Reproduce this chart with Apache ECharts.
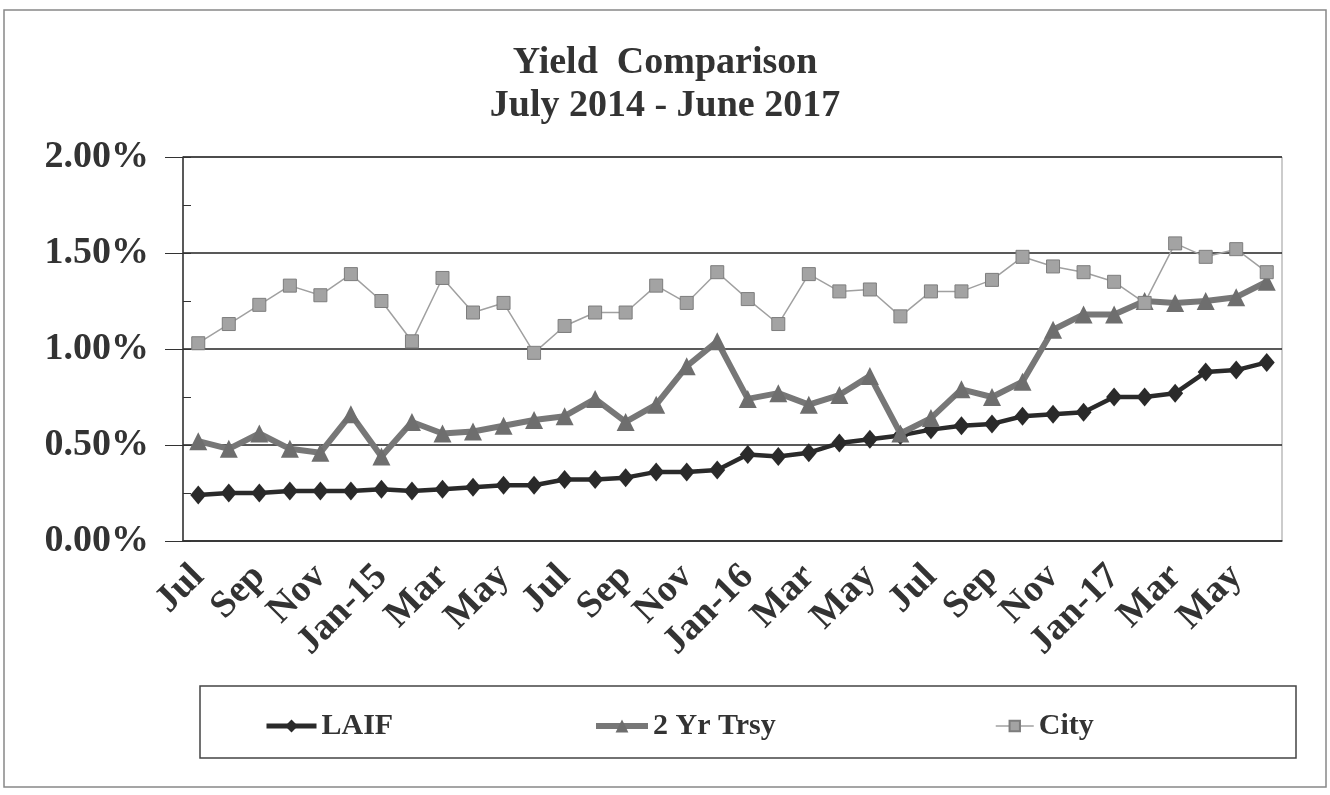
<!DOCTYPE html>
<html>
<head>
<meta charset="utf-8">
<title>Yield Comparison</title>
<script src="https://cdn.jsdelivr.net/npm/echarts@6/dist/echarts.min.js"></script>
<style>
  html, body { margin: 0; padding: 0; background: #fff; }
  #main { width: 1330px; height: 795px; }
</style>
</head>
<body>
<div id="main"></div>
<script>
  // months, July 2014 - June 2017
  var months = ['Jul', 'Aug', 'Sep', 'Oct', 'Nov', 'Dec', 'Jan-15', 'Feb', 'Mar', 'Apr', 'May', 'Jun',
                'Jul', 'Aug', 'Sep', 'Oct', 'Nov', 'Dec', 'Jan-16', 'Feb', 'Mar', 'Apr', 'May', 'Jun',
                'Jul', 'Aug', 'Sep', 'Oct', 'Nov', 'Dec', 'Jan-17', 'Feb', 'Mar', 'Apr', 'May', 'Jun'];

  // yields in percent
  var laif = [0.24, 0.25, 0.25, 0.26, 0.26, 0.26, 0.27, 0.26, 0.27, 0.28, 0.29, 0.29,
              0.32, 0.32, 0.33, 0.36, 0.36, 0.37, 0.45, 0.44, 0.46, 0.51, 0.53, 0.55,
              0.58, 0.60, 0.61, 0.65, 0.66, 0.67, 0.75, 0.75, 0.77, 0.88, 0.89, 0.93];
  var trsy2yr = [0.52, 0.48, 0.56, 0.48, 0.46, 0.66, 0.44, 0.62, 0.56, 0.57, 0.60, 0.63,
                 0.65, 0.74, 0.62, 0.71, 0.91, 1.04, 0.74, 0.77, 0.71, 0.76, 0.86, 0.56,
                 0.64, 0.79, 0.75, 0.83, 1.10, 1.18, 1.18, 1.25, 1.24, 1.25, 1.27, 1.35];
  var city = [1.03, 1.13, 1.23, 1.33, 1.28, 1.39, 1.25, 1.04, 1.37, 1.19, 1.24, 0.98,
              1.12, 1.19, 1.19, 1.33, 1.24, 1.40, 1.26, 1.13, 1.39, 1.30, 1.31, 1.17,
              1.30, 1.30, 1.36, 1.48, 1.43, 1.40, 1.35, 1.24, 1.55, 1.48, 1.52, 1.40];

  var serif = '"Liberation Serif", "Times New Roman", serif';
  var ink = '#333';

  var laifColor = '#2a2a2a';
  var trsyColor = '#777';
  var cityColor = '#a0a0a0';

  var legendText = { fontFamily: serif, fontWeight: 'bold', fontSize: 30, color: ink };

  var option = {
    animation: false,
    backgroundColor: '#fff',
    title: {
      text: 'Yield  Comparison\nJuly 2014 - June 2017',
      left: 'center',
      top: 37,
      textStyle: {
        fontFamily: serif,
        fontWeight: 'bold',
        fontSize: 38,
        lineHeight: 43,
        color: ink
      }
    },
    grid: {
      left: 183,
      right: 48,
      top: 157,
      bottom: 254,
      show: true,
      borderColor: '#999',
      borderWidth: 1
    },
    legend: [
      {
        data: ['LAIF'], left: 259, top: 706, itemWidth: 50, itemHeight: 16, itemGap: 4,
        lineStyle: { width: 5, color: laifColor }, textStyle: legendText
      },
      {
        data: ['2 Yr Trsy'], left: 588, top: 706, itemWidth: 52, itemHeight: 16,
        lineStyle: { width: 6, color: trsyColor }, textStyle: legendText
      },
      {
        data: ['City'], left: 990, top: 706, itemWidth: 38, itemHeight: 13,
        lineStyle: { width: 1.5, color: cityColor }, textStyle: legendText
      }
    ],
    xAxis: {
      type: 'category',
      data: months,
      boundaryGap: true,
      axisLine: { lineStyle: { color: ink, width: 1.5 } },
      axisTick: { interval: 0, length: 10, lineStyle: { color: ink } },
      axisLabel: {
        interval: 1,
        rotate: 45,
        margin: 30,
        fontFamily: serif,
        fontWeight: 'bold',
        fontSize: 38,
        color: ink
      },
      splitLine: { show: false }
    },
    yAxis: [
      {
        type: 'value',
        min: 0,
        max: 2,
        interval: 0.5,
        axisLine: { show: true, lineStyle: { color: ink, width: 1.5 } },
        axisTick: { show: true, length: 18, lineStyle: { color: ink } },
        axisLabel: {
          margin: 34,
          fontFamily: serif,
          fontWeight: 'bold',
          fontSize: 38,
          color: ink,
          formatter: function (v) { return v.toFixed(2) + '%'; }
        },
        splitLine: { show: true, lineStyle: { color: '#222', width: 1.5 } }
      },
      {
        // inner minor ticks every 0.25
        type: 'value',
        position: 'left',
        min: 0,
        max: 2,
        interval: 0.25,
        axisLine: { show: false },
        axisTick: { show: true, inside: true, length: 8, lineStyle: { color: ink } },
        axisLabel: { show: false },
        splitLine: { show: false }
      }
    ],
    series: [
      {
        name: 'LAIF',
        type: 'line',
        data: laif,
        symbol: 'diamond',
        symbolSize: [16, 19],
        lineStyle: { color: laifColor, width: 4.5 },
        itemStyle: { color: laifColor },
        z: 3
      },
      {
        name: '2 Yr Trsy',
        type: 'line',
        data: trsy2yr,
        symbol: 'triangle',
        symbolSize: 18,
        lineStyle: { color: trsyColor, width: 6 },
        itemStyle: { color: '#6e6e6e' },
        z: 4
      },
      {
        name: 'City',
        type: 'line',
        data: city,
        symbol: 'rect',
        symbolSize: 13,
        lineStyle: { color: cityColor, width: 1.5 },
        itemStyle: { color: '#a3a3a3', borderColor: '#7d7d7d', borderWidth: 1 },
        z: 5
      }
    ],
    graphic: [
      {
        type: 'rect',
        shape: { x: 4, y: 10, width: 1322, height: 777 },
        style: { fill: null, stroke: '#888', lineWidth: 1.5 },
        silent: true
      },
      {
        type: 'rect',
        shape: { x: 200, y: 686, width: 1096, height: 72 },
        style: { fill: null, stroke: '#444', lineWidth: 1.5 },
        silent: true
      }
    ]
  };

  var myChart = echarts.init(document.getElementById('main'));
  myChart.setOption(option);
</script>
</body>
</html>
